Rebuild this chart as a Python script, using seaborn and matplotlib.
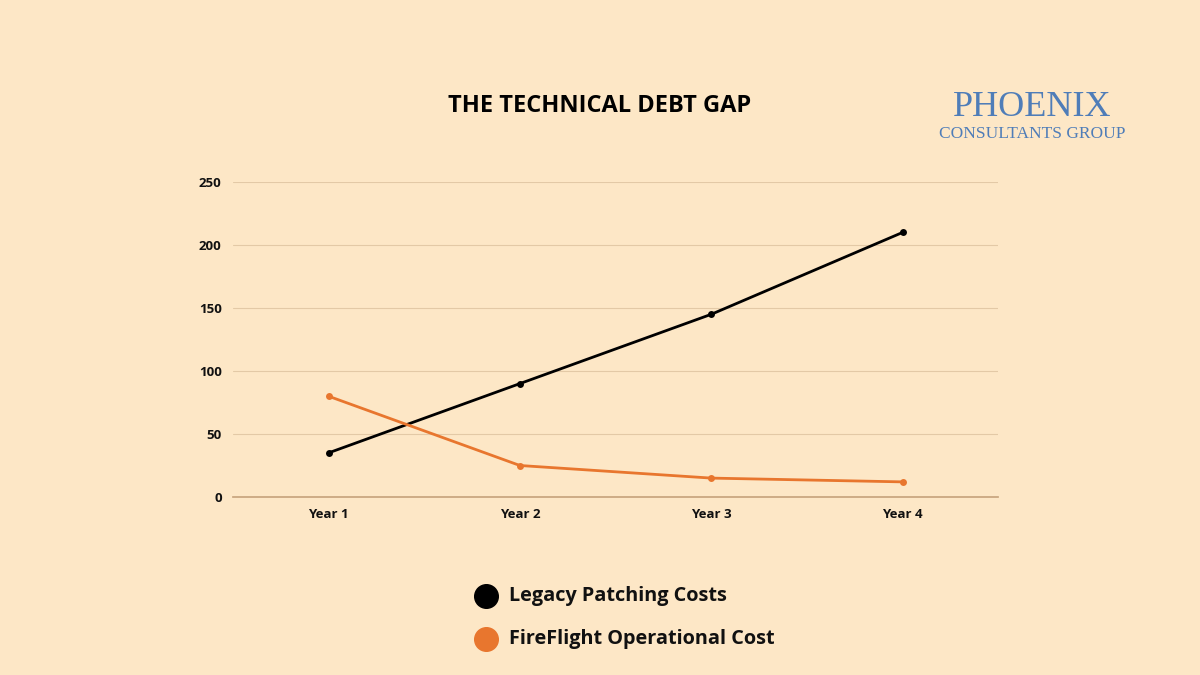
import matplotlib
matplotlib.use("Agg")
import matplotlib.pyplot as plt
from matplotlib.lines import Line2D
import seaborn as sns
import pandas as pd

years = ["Year 1", "Year 2", "Year 3", "Year 4"]
legacy = [35, 90, 145, 210]
fireflight = [80, 25, 15, 12]
yticks = [0, 50, 100, 150, 200, 250]

bg = "#FDE7C6"
orange = "#E8762E"
sns.set_theme(style="white")
plt.rcParams['font.family'] = ['Open Sans', 'DejaVu Sans']

fig = plt.figure(figsize=(12, 6.75), dpi=100, facecolor=bg)
ax = fig.add_axes([0.194, 0.2637, 0.638, 0.4667], facecolor=bg)

df = pd.DataFrame({"x": list(range(4)) * 2,
                   "y": legacy + fireflight,
                   "s": ["Legacy Patching Costs"] * 4 + ["FireFlight Operational Cost"] * 4})
sns.lineplot(data=df, x="x", y="y", hue="s", palette=["black", orange], marker="o",
             markersize=5, markeredgewidth=0, linewidth=2, ax=ax, legend=False)

ax.set_xlim(-0.5, 3.5)
ax.set_ylim(0, 250)
ax.set_yticks(yticks)
ax.set_yticklabels([str(t) for t in yticks], fontsize=9.5, fontweight="bold", color="#111")
ax.set_xticks(range(4))
ax.set_xticklabels(years, fontsize=9.5, fontweight="bold", color="#111")
ax.grid(axis="y", color="#E3C9A6", linewidth=0.8)
ax.set_axisbelow(True)
for s in ["top", "right", "left"]:
    ax.spines[s].set_visible(False)
ax.spines["bottom"].set_color("#C8A57E")
ax.tick_params(length=0, pad=8)
ax.set_xlabel("")
ax.set_ylabel("")

fig.text(0.5, 0.843, "THE TECHNICAL DEBT GAP", ha="center", va="center",
         fontsize=17, fontweight="bold", color="black")

# legend
for i, (lab, c) in enumerate([("Legacy Patching Costs", "black"),
                               ("FireFlight Operational Cost", orange)]):
    yy = 1 - (596 + 43 * i) / 675
    fig.add_artist(Line2D([486 / 1200], [yy], marker="o", markersize=17,
                          color=c, transform=fig.transFigure, linestyle=""))
    fig.text(509 / 1200, yy, lab, ha="left", va="center", fontsize=14.3,
             fontweight="bold", color="#111")

# logo text
logo = "#4F7DB8"
fig.text(1032 / 1200, 1 - 107 / 675, "PHOENIX", ha="center", va="center",
         fontsize=26, family="Liberation Serif", color=logo)
fig.text(1032 / 1200, 1 - 134 / 675, "CONSULTANTS GROUP", ha="center", va="center",
         fontsize=12.5, family="Liberation Serif", color=logo)

fig.savefig("out.png", dpi=100, facecolor=bg)
